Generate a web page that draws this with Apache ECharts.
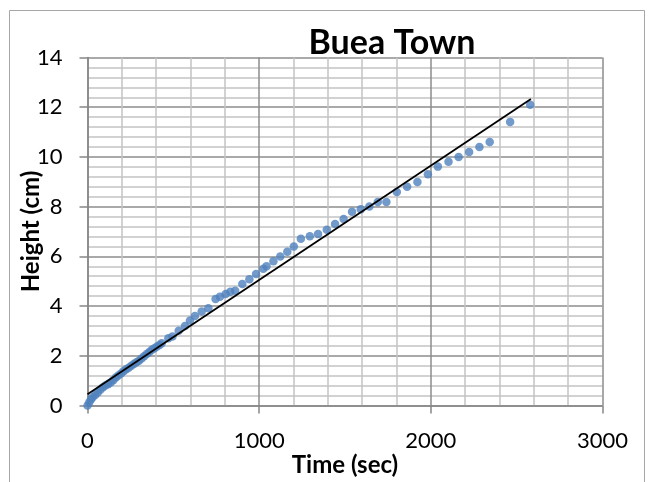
<!DOCTYPE html>
<html>
<head>
<meta charset="utf-8">
<script src="https://cdn.jsdelivr.net/npm/echarts@6/dist/echarts.min.js"></script>
<style>
html,body{margin:0;padding:0;background:#fff;}
#chart{width:656px;height:482px;}
</style>
</head>
<body>
<div id="chart"></div>
<script>
// ---- data ----
const chartTitle = 'Buea Town';
const xAxisName = 'Time (sec)';
const yAxisName = 'Height (cm)';

const timeSec = [0,10,20,30,45,60,75,90,105,120,135,150,165,180,195,210,225,240,255,270,285,300,315,330,345,360,375,390,405,420,
  432,471,495,531,568,597,626,665,704,746,772,805,832,860,902,943,982,1024,1043,1083,1123,1164,1202,1243,1295,1343,1394,1442,1492,
  1541,1592,1642,1691,1741,1802,1862,1922,1983,2041,2103,2162,2223,2283,2343,2462,2579];
const heightCm = [0,0.12,0.24,0.33,0.42,0.52,0.63,0.73,0.80,0.86,0.93,1.02,1.13,1.21,1.29,1.38,1.46,1.52,1.60,1.67,1.74,1.80,1.89,1.98,2.07,2.15,2.24,2.30,2.37,2.43,
  2.50,2.71,2.78,3.01,3.20,3.42,3.60,3.78,3.91,4.28,4.38,4.49,4.58,4.62,4.89,5.08,5.29,5.50,5.60,5.80,5.99,6.19,6.40,6.71,6.81,6.90,7.07,7.30,7.50,
  7.79,7.90,8.01,8.19,8.19,8.59,8.80,8.99,9.30,9.61,9.81,10.00,10.20,10.40,10.60,11.41,12.10];

// linear trend line end points
const trendX = [0, 2583];
const trendY = [0.45, 12.33];

const xTicks = [0, 1000, 2000, 3000];
const yTicks = [0, 2, 4, 6, 8, 10, 12, 14];

// ---- chart ----
const points = timeSec.map((t, i) => [t, heightCm[i]]);
const trend = trendX.map((t, i) => [t, trendY[i]]);

const font = 'Lato, "Open Sans", sans-serif';
const chart = echarts.init(document.getElementById('chart'), null, {renderer: 'canvas'});
chart.setOption({
  animation: false,
  backgroundColor: '#ffffff',
  graphic: [{
    type: 'rect', silent: true, z: -10,
    shape: {x: 9.5, y: 10.5, width: 635, height: 520},
    style: {fill: 'none', stroke: '#a6a6a6', lineWidth: 1}
  }],
  title: {
    text: chartTitle,
    left: 387, top: 21, textAlign: 'center',
    textStyle: {fontFamily: font, fontWeight: 'bold', fontSize: 34, color: '#000'}
  },
  grid: {left: 87.5, top: 57.5, right: 53.5, bottom: 76.5, containLabel: false, outerBoundsMode: 'none'},
  xAxis: {
    type: 'value', min: xTicks[0], max: xTicks[xTicks.length - 1], interval: 1000,
    name: xAxisName, nameLocation: 'middle', nameGap: 48, nameMoveOverlap: false,
    nameTextStyle: {fontFamily: font, fontWeight: 'bold', fontSize: 24, color: '#000'},
    axisLine: {show: true, onZero: false, lineStyle: {color: '#868686', width: 1.5}},
    axisTick: {show: true, length: 8, lineStyle: {color: '#868686', width: 1.5}},
    axisLabel: {fontFamily: font, fontSize: 22, color: '#000', margin: 24, formatter: v => String(v)},
    splitLine: {show: true, lineStyle: {color: '#8c8c8c', width: 1.5}},
    minorTick: {show: false, splitNumber: 5},
    minorSplitLine: {show: true, lineStyle: {color: '#c3c3c3', width: 1.5}}
  },
  yAxis: {
    type: 'value', min: yTicks[0], max: yTicks[yTicks.length - 1], interval: 2,
    name: yAxisName, nameLocation: 'middle', nameGap: 44, nameMoveOverlap: false,
    nameTextStyle: {fontFamily: font, fontWeight: 'bold', fontSize: 24, color: '#000'},
    axisLine: {show: true, onZero: false, lineStyle: {color: '#868686', width: 1.5}},
    axisTick: {show: true, length: 8, lineStyle: {color: '#868686', width: 1.5}},
    axisLabel: {fontFamily: font, fontSize: 22, color: '#000', margin: 25, formatter: v => String(v)},
    splitLine: {show: true, lineStyle: {color: '#8c8c8c', width: 1.5}},
    minorTick: {show: false, splitNumber: 5},
    minorSplitLine: {show: true, lineStyle: {color: '#c3c3c3', width: 1.5}}
  },
  series: [{
    type: 'scatter', data: points, symbol: 'circle', symbolSize: 8.5,
    itemStyle: {color: '#4f81bd'}, z: 3
  }, {
    type: 'line', data: trend, symbol: 'none',
    lineStyle: {color: '#000', width: 1.8}, z: 4
  }]
});
</script>
</body>
</html>
